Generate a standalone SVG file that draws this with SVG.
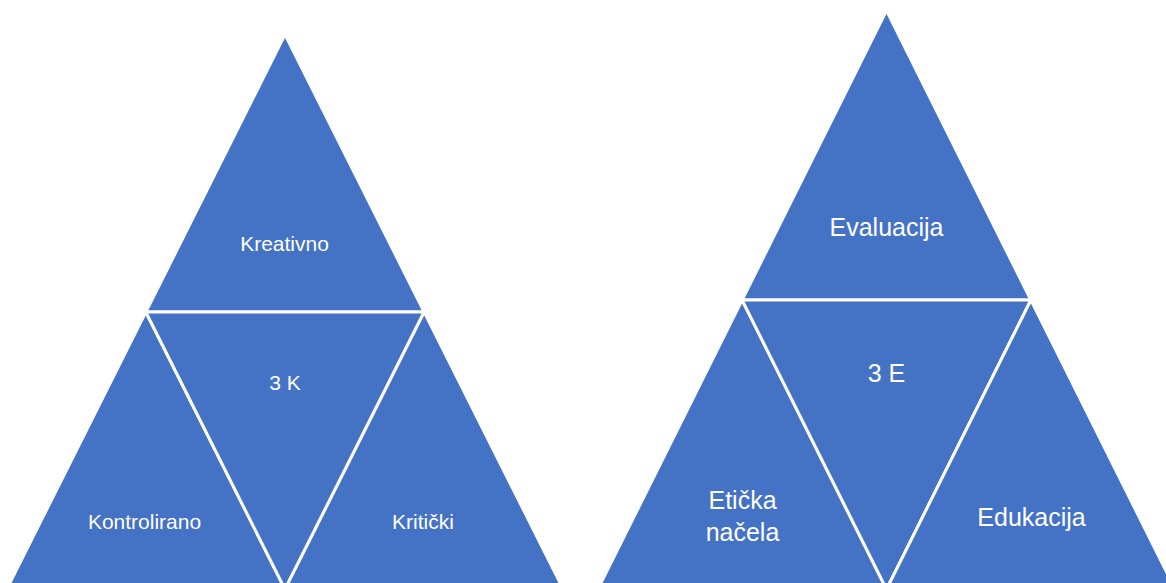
<svg xmlns="http://www.w3.org/2000/svg" width="1166" height="583" viewBox="0 0 1166 583">
<style>
.tri{fill:#4472C4;stroke:#FFFFFF;stroke-width:3;stroke-linejoin:miter}
.s{font-family:"Liberation Sans",Arial,sans-serif;font-size:21px;fill:#FFFFFF;text-anchor:middle}
.l{font-family:"Liberation Sans",Arial,sans-serif;font-size:25px;fill:#FFFFFF;text-anchor:middle}
</style>
<rect width="1166" height="583" fill="#FFFFFF"/>
<g id="pyramid-3k">
<g id="kreativno"><polygon class="tri" points="285,34.7 145.8,312 424.2,312"/><text class="s" x="284.5" y="251">Kreativno</text></g>
<g id="kontrolirano"><polygon class="tri" points="145.8,312 6.7,589.3 285,589.3"/><text class="s" x="144.5" y="529">Kontrolirano</text></g>
<g id="center-3k"><polygon class="tri" points="145.8,312 424.2,312 285,589.3"/><text class="s" x="285" y="390">3 K</text></g>
<g id="kriticki"><polygon class="tri" points="424.2,312 285,589.3 563.3,589.3"/><text class="s" x="423" y="529">Kritički</text></g>
</g>
<g id="pyramid-3e">
<g id="evaluacija"><polygon class="tri" points="886.5,10.7 742.1,300 1030.9,300"/><text class="l" x="886.5" y="236">Evaluacija</text></g>
<g id="eticka"><polygon class="tri" points="742.1,300 597.8,589.3 886.5,589.3"/><text class="l" x="742.5" y="509">Etička</text><text class="l" x="742.5" y="541">načela</text></g>
<g id="center-3e"><polygon class="tri" points="742.1,300 1030.9,300 886.5,589.3"/><text class="l" x="886.5" y="382">3 E</text></g>
<g id="edukacija"><polygon class="tri" points="1030.9,300 886.5,589.3 1175.2,589.3"/><text class="l" x="1031.5" y="526">Edukacija</text></g>
</g>
<g id="connectors"/>
</svg>
